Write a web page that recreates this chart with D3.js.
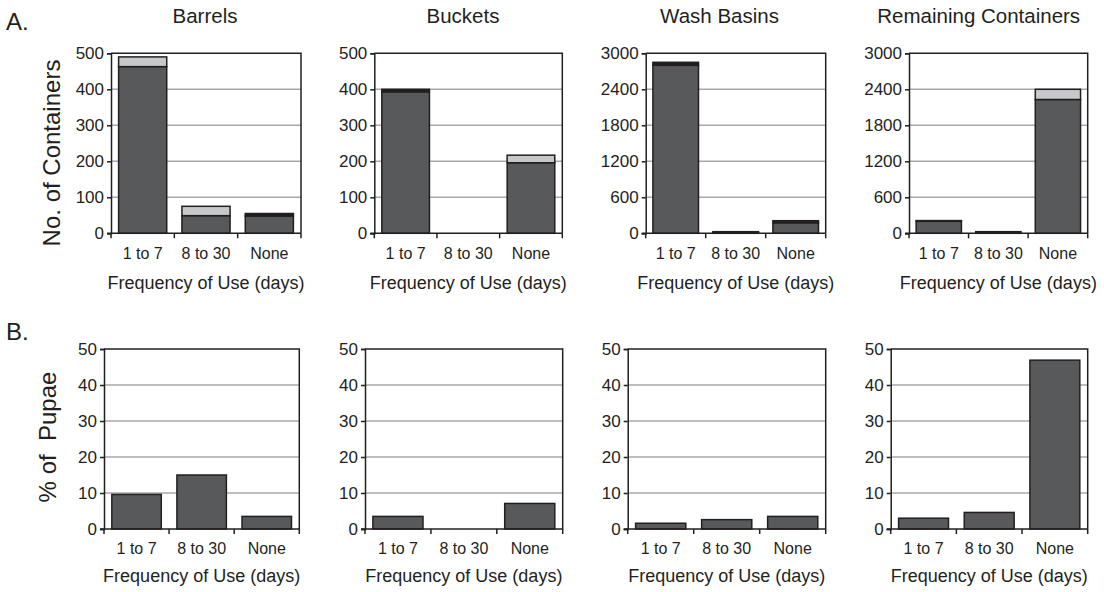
<!DOCTYPE html>
<html>
<head>
<meta charset="utf-8">
<script src="https://cdnjs.cloudflare.com/ajax/libs/d3/7.8.5/d3.min.js"></script>
<style>
  body { margin: 0; background: #fff; }
  svg { display: block; font-family: "Liberation Sans", Arial, sans-serif; }
  text { fill: #231f20; }
</style>
</head>
<body>
<svg id="chart" width="1104" height="592"></svg>
<script>
// categories and values
var categories = ["1 to 7", "8 to 30", "None"];
var containerTypes = ["Barrels", "Buckets", "Wash Basins", "Remaining Containers"];

// row A: number of containers, stacked (dark part, thin black part, light top part)
var countsDark  = [[463, 49, 48], [393, 0, 196], [2800, 15, 175], [200, 27, 2230]];
var countsBlack = [[0, 0, 7],     [7, 0, 0],     [50, 12, 35],    [12, 0, 0]];
var countsLight = [[27, 26, 0],   [0, 0, 21],    [0, 0, 0],       [0, 0, 170]];
var countMax = [500, 500, 3000, 3000];
var countTicks = [
    [0, 100, 200, 300, 400, 500],
    [0, 100, 200, 300, 400, 500],
    [0, 600, 1200, 1800, 2400, 3000],
    [0, 600, 1200, 1800, 2400, 3000]
];

// row B: % of pupae
var pupaePct = [[9.6, 15, 3.5], [3.5, 0, 7.1], [1.6, 2.6, 3.5], [3.0, 4.6, 46.9]];
var pctTicks = [0, 10, 20, 30, 40, 50];

var svg = d3.select("#chart");

var dark = "#58595b", light = "#c7c8ca", ink = "#231f20", grid = "#a7a9ac";

// plot boxes (left, right) for each panel in both rows
var rowA = {top: 53.3, bottom: 233.3, catY: 26, titleY: 56,
    xs: [[111, 301], [374.3, 562.3], [645.7, 825.7], [909, 1087.7]]};
var rowB = {top: 349, bottom: 529, catY: 25, titleY: 52.5,
    xs: [[104, 299.3], [365, 562.7], [627.7, 825.7], [890.7, 1087.7]]};
var titleX = [205, 463, 719.5, 978.7];

function panel(row, i, yMax, ticks, stacks) {
    var x0 = row.xs[i][0], x1 = row.xs[i][1];

    var x = d3.scaleBand().domain(categories).range([x0, x1])
        .paddingInner(0.24).paddingOuter(0.12);
    var y = d3.scaleLinear().domain([0, yMax]).range([row.bottom, row.top]);

    var g = svg.append("g");

    // gridlines
    g.selectAll("line.grid")
        .data(ticks.filter(function (t) { return t > 0 && t < yMax; }))
        .enter().append("line")
        .attr("class", "grid")
        .attr("x1", x0).attr("x2", x1)
        .attr("y1", function (d) { return y(d); })
        .attr("y2", function (d) { return y(d); })
        .attr("stroke", grid).attr("stroke-width", 1.5);

    // bars (stacked)
    var stack = d3.stack().keys(d3.range(stacks.length))
        .value(function (d, k) { return stacks[k][d]; });
    var layers = stack(d3.range(categories.length));
    var fills = [dark, ink, light];

    layers.forEach(function (layer, k) {
        g.selectAll("rect.s" + k)
            .data(layer.filter(function (d) { return d[1] - d[0] > 0; }))
            .enter().append("rect")
            .attr("class", "s" + k)
            .attr("x", function (d) { return x(categories[d.data]); })
            .attr("width", x.bandwidth())
            .attr("y", function (d) { return y(d[1]); })
            .attr("height", function (d) { return y(d[0]) - y(d[1]); })
            .attr("fill", fills[k])
            .attr("stroke", ink).attr("stroke-width", 1.5);
    });

    // frame: top and right
    g.append("path")
        .attr("d", "M" + x0 + "," + row.top + "H" + x1 + "V" + row.bottom)
        .attr("fill", "none").attr("stroke", ink).attr("stroke-width", 1.5);

    // y axis
    var yAxis = d3.axisLeft(y).tickValues(ticks).tickSize(4).tickPadding(3)
        .tickFormat(d3.format("d"));
    var ya = g.append("g").attr("transform", "translate(" + x0 + ",0)").call(yAxis);
    ya.select(".domain").attr("stroke", ink).attr("stroke-width", 1.5);
    ya.selectAll(".tick line").attr("stroke", ink).attr("stroke-width", 1.5);
    ya.selectAll(".tick text").attr("font-size", 17).attr("fill", ink)
        .attr("font-family", "Liberation Sans, Arial, sans-serif");

    // x axis: line with ticks at band boundaries
    g.append("line")
        .attr("x1", x0 - 4).attr("x2", x1)
        .attr("y1", row.bottom).attr("y2", row.bottom)
        .attr("stroke", ink).attr("stroke-width", 1.5);
    g.selectAll("line.xt")
        .data(d3.range(categories.length + 1))
        .enter().append("line")
        .attr("class", "xt")
        .attr("x1", function (d) { return x0 + d * x.step(); })
        .attr("x2", function (d) { return x0 + d * x.step(); })
        .attr("y1", row.bottom).attr("y2", row.bottom + 5)
        .attr("stroke", ink).attr("stroke-width", 1.5);

    g.selectAll("text.cat")
        .data(categories)
        .enter().append("text")
        .attr("class", "cat")
        .attr("x", function (d) { return x(d) + x.bandwidth() / 2; })
        .attr("y", row.bottom + row.catY)
        .attr("text-anchor", "middle")
        .attr("font-size", 16)
        .text(function (d) { return d; });

    g.append("text")
        .attr("x", (x0 + x1) / 2)
        .attr("y", row.bottom + row.titleY)
        .attr("text-anchor", "middle")
        .attr("font-size", 18)
        .text("Frequency of Use (days)");
}

containerTypes.forEach(function (name, i) {
    panel(rowA, i, countMax[i], countTicks[i], [countsDark[i], countsBlack[i], countsLight[i]]);
    panel(rowB, i, 50, pctTicks, [pupaePct[i]]);

    svg.append("text")
        .attr("x", titleX[i]).attr("y", 23)
        .attr("text-anchor", "middle")
        .attr("font-size", 20.5)
        .text(name);
});

// row labels and y titles
svg.append("text").attr("x", 6).attr("y", 30).attr("font-size", 24).text("A.");
svg.append("text").attr("x", 6).attr("y", 340).attr("font-size", 24).text("B.");

svg.append("text")
    .attr("transform", "translate(60,153) rotate(-90)")
    .attr("text-anchor", "middle")
    .attr("font-size", 24)
    .text("No. of Containers");

svg.append("text")
    .attr("transform", "translate(56,437) rotate(-90)")
    .attr("text-anchor", "middle")
    .attr("font-size", 24)
    .style("white-space", "pre")
    .text("% of  Pupae");
</script>
</body>
</html>
